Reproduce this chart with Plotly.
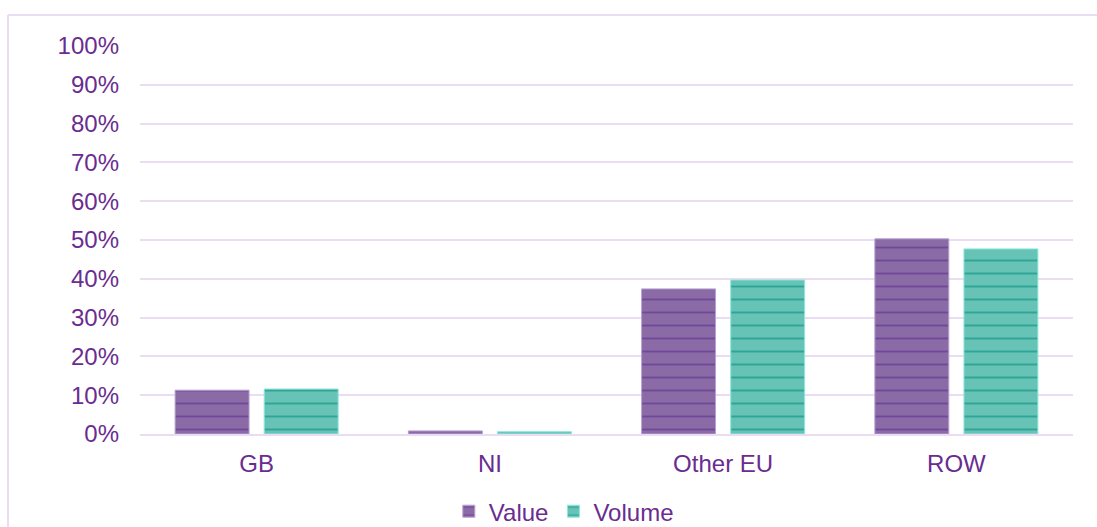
import plotly.graph_objects as go

# Shares by destination
categories = ["GB", "NI", "Other EU", "ROW"]
value_share = [0.113, 0.008, 0.374, 0.503]
volume_share = [0.116, 0.006, 0.397, 0.477]
y_ticks = [0, 0.1, 0.2, 0.3, 0.4, 0.5, 0.6, 0.7, 0.8, 0.9, 1.0]
y_tick_labels = ["0%", "10%", "20%", "30%", "40%", "50%", "60%", "70%", "80%", "90%", "100%"]

text_col = "#6A2C8F"
grid_col = "#EADCF2"
font_family = "Liberation Sans, Arial, sans-serif"
fsize = 24

fig = go.Figure()

fig.add_trace(go.Bar(
    x=categories, y=value_share, name="Value",
    marker=dict(
        color="#8A6BA6",
        line=dict(color="#B9A0D3", width=1),
        pattern=dict(shape="-", size=13, solidity=0.15,
                     fgcolor="#72489A", bgcolor="#8A6BA6", fillmode="replace"),
    ),
))
fig.add_trace(go.Bar(
    x=categories, y=volume_share, name="Volume",
    marker=dict(
        color="#66C3B6",
        line=dict(color="#8EE8DC", width=1),
        pattern=dict(shape="-", size=13, solidity=0.15,
                     fgcolor="#2FA596", bgcolor="#66C3B6", fillmode="replace"),
    ),
))

fig.update_layout(
    width=1097, height=527,
    margin=dict(l=140, r=24, t=46, b=93, autoexpand=False),
    paper_bgcolor="white", plot_bgcolor="white",
    font=dict(family=font_family, size=fsize, color=text_col),
    barmode="group", bargap=0.236, bargroupgap=0.17,
    showlegend=True,
    legend=dict(orientation="h", x=0.331, xanchor="left", y=-0.2, yanchor="middle",
                font=dict(size=fsize, color=text_col), itemwidth=30,
                tracegroupgap=0, bgcolor="rgba(0,0,0,0)"),
    xaxis=dict(showgrid=False, showline=True, linecolor=grid_col, linewidth=2,
               ticks="", ticklabelstandoff=7, tickfont=dict(size=fsize, color=text_col)),
    yaxis=dict(range=[0, 1], tickvals=y_ticks, ticktext=y_tick_labels,
               showgrid=True, gridcolor=grid_col, gridwidth=2, zeroline=False,
               showline=False, ticks="", ticklabelstandoff=20,
               tickfont=dict(size=fsize, color=text_col)),
    shapes=[
        dict(type="line", xref="paper", yref="paper", x0=-0.1415, x1=1.03, y0=1.08, y1=1.08,
             line=dict(color=grid_col, width=2)),
        dict(type="line", xref="paper", yref="paper", x0=-0.1415, x1=-0.1415, y0=1.08, y1=-0.26,
             line=dict(color=grid_col, width=2)),
    ],
)

fig.write_html("out.html", config={"displayModeBar": False},
               post_script="document.body.style.margin='0';document.body.style.overflow='hidden';")
